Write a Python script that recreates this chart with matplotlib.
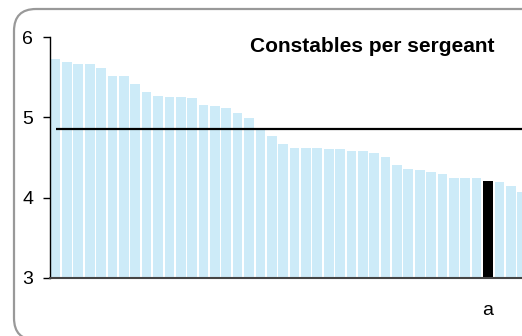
import matplotlib
matplotlib.use("Agg")
import matplotlib.pyplot as plt
from matplotlib.patches import FancyBboxPatch
from matplotlib.transforms import IdentityTransform

plt.rcParams['font.family'] = ['Liberation Sans', 'DejaVu Sans']

# constables per sergeant, one bar per force, sorted
values = [5.73, 5.69, 5.67, 5.66, 5.62, 5.51, 5.51, 5.42, 5.32, 5.27,
          5.25, 5.25, 5.24, 5.15, 5.14, 5.11, 5.05, 4.99, 4.86, 4.77,
          4.67, 4.62, 4.62, 4.62, 4.61, 4.60, 4.58, 4.58, 4.56, 4.51,
          4.41, 4.36, 4.35, 4.32, 4.29, 4.24, 4.24, 4.24, 4.21, 4.20,
          4.14, 4.07]
highlight = 38
highlight_label = 'a'
average = 4.85
title = 'Constables per sergeant'
yticks = [3, 4, 5, 6]

fig = plt.figure(figsize=(5.22, 3.36), dpi=100)
ax = fig.add_axes([50/522, 58/336, 1 - 50/522, 241/336])

x = list(range(len(values)))
colors = ['#cdebf8'] * len(values)
colors[highlight] = 'black'
ax.bar(x, [v - 3 for v in values], bottom=3, width=0.85, color=colors)

# average line
ax.plot([0, len(values)], [average, average], color='black', lw=1.6, solid_capstyle='butt')

ax.set_ylim(3, 6)
ax.set_xlim(-0.49, 40.99)
ax.set_yticks(yticks)
ax.set_xticks([])
ax.tick_params(axis='y', length=5, width=1, labelsize=14, pad=7)
for s in ['top', 'right']:
    ax.spines[s].set_visible(False)
ax.spines['left'].set_linewidth(1)
ax.spines['bottom'].set_color('#444444')
ax.spines['bottom'].set_linewidth(1.5)

ax.text(highlight, 2.6, highlight_label, ha='center', va='center', fontsize=14)
fig.text(372/522, 1 - 46/336, title, ha='center', va='center', fontsize=15, fontweight='bold')

# rounded border
box = FancyBboxPatch((14, -4), 540, 336 - 9 + 4, boxstyle='round,pad=0,rounding_size=22',
                     transform=IdentityTransform(), fill=False, edgecolor='#999999', lw=1.6)
fig.patches.append(box)

fig.savefig('out.png', dpi=100)
